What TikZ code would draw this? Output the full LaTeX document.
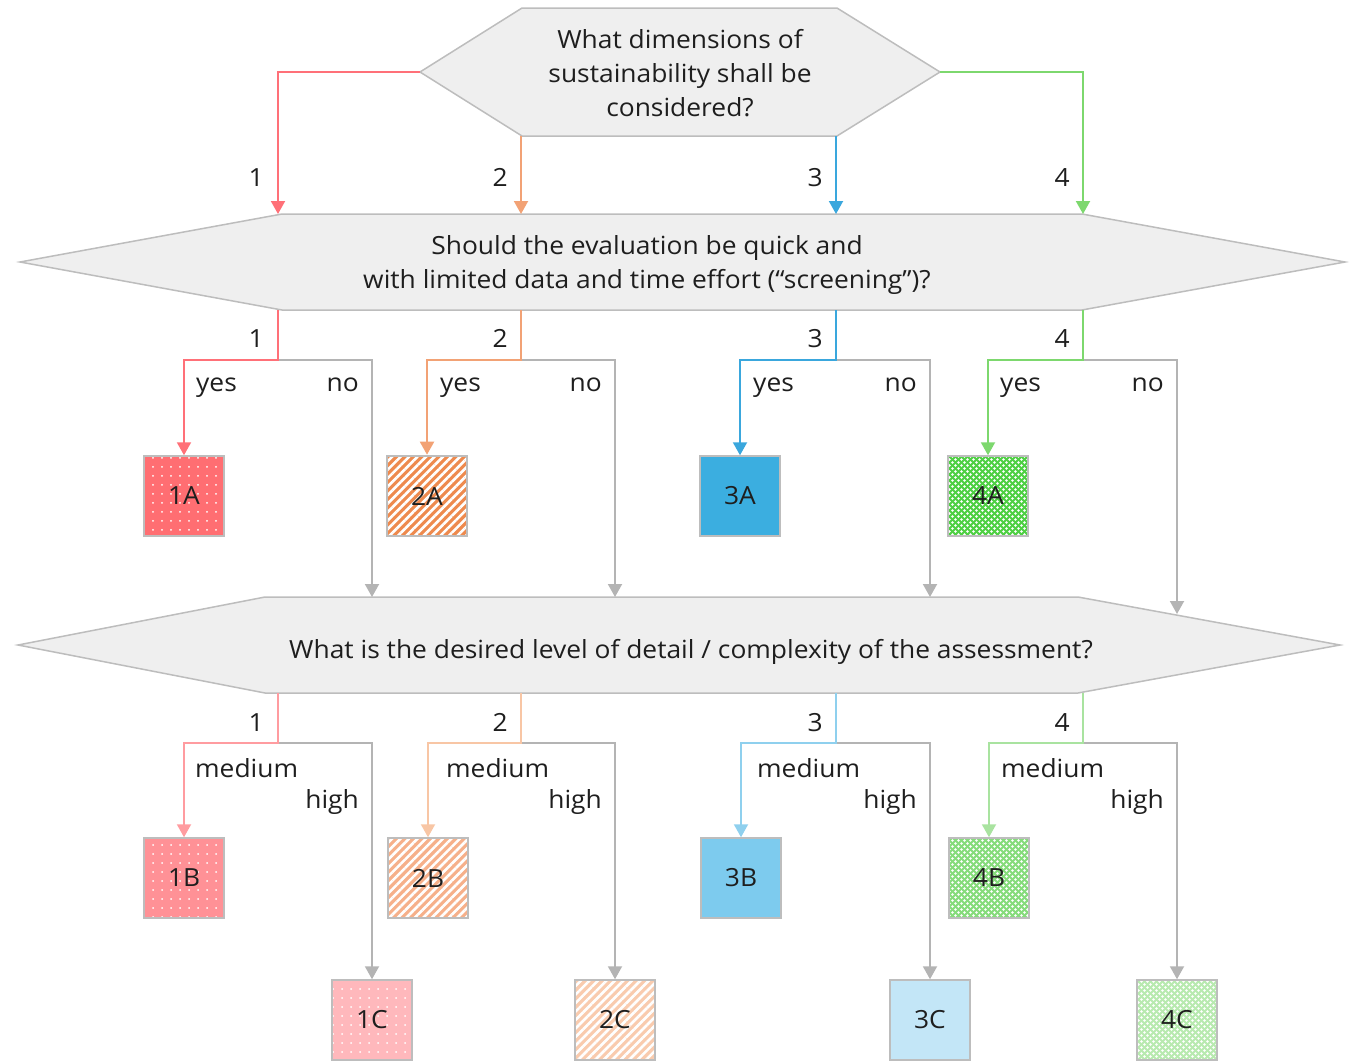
\documentclass[tikz,border=0pt]{standalone}
\usepackage{fontspec}
\setmainfont{Open Sans}[FakeStretch=1.055]
\usetikzlibrary{arrows.meta,patterns,patterns.meta}
\definecolor{hexfill}{HTML}{EFEFEF}
\definecolor{hexline}{HTML}{BDBDBD}
\definecolor{connc}{HTML}{B4B4B4}
\definecolor{txtc}{HTML}{1E1E1E}
\definecolor{rA}{HTML}{FF6E72}
\definecolor{rB}{HTML}{FF9196}
\definecolor{rC}{HTML}{FFB8BC}
\definecolor{oA}{HTML}{EE8A4E}
\definecolor{oB}{HTML}{F6B08A}
\definecolor{oC}{HTML}{F9CBAE}
\definecolor{bA}{HTML}{3BAEE0}
\definecolor{bB}{HTML}{7DCBEE}
\definecolor{bC}{HTML}{C3E6F7}
\definecolor{gA}{HTML}{4FD044}
\definecolor{gB}{HTML}{86DC7C}
\definecolor{gC}{HTML}{B8EAB0}
\definecolor{arR}{HTML}{FF7078}
\definecolor{arO}{HTML}{F2A275}
\definecolor{arB}{HTML}{3AA7DD}
\definecolor{arG}{HTML}{7DD86E}
\definecolor{loR}{HTML}{FF9CA0}
\definecolor{loO}{HTML}{F8C6A5}
\definecolor{loB}{HTML}{8FD0EE}
\definecolor{loG}{HTML}{A9E3A0}
\pgfdeclarepatternformonly{mycheck}{\pgfqpoint{-1pt}{-1pt}}{\pgfqpoint{7pt}{7pt}}{\pgfqpoint{6pt}{6pt}}{%
  \pgfpathcircle{\pgfqpoint{1.5pt}{1.5pt}}{1.3pt}%
  \pgfpathcircle{\pgfqpoint{4.5pt}{4.5pt}}{1.3pt}%
  \pgfusepath{fill}}
\begin{document}
\begin{tikzpicture}[x=1pt,y=-1pt,
  txt/.style={text=txtc, font=\fontsize{25}{34}\selectfont, inner sep=0pt},
  hex/.style={draw=hexline, fill=hexfill, line width=1.5pt, line join=miter},
  conn/.style={line width=2pt, -{Triangle[width=14pt,length=13pt]}},
  box/.style={txt, draw=hexline, line width=1.5pt, minimum size=80pt},
  dotbox/.style={box, preaction={fill=#1}, pattern={Dots[distance=9pt,radius=1pt]}, pattern color=white},
  linebox/.style={box, preaction={fill=#1}, pattern={Lines[angle=45,distance=6pt,line width=2.6pt]}, pattern color=white},
  solidbox/.style={box, fill=#1},
  checkbox/.style={box, preaction={fill=#1}, pattern=mycheck, pattern color=white},
  lblL/.style={txt, anchor=base west},
  lblR/.style={txt, anchor=base east}
]
\useasboundingbox (0,0) rectangle (1363,1061);
% hexagons
\draw[hex] (420,72) -- (522,8) -- (837,8) -- (940,72) -- (837,136) -- (522,136) -- cycle;
\node[txt, align=center] (q1) at (680,73) {What dimensions of\\sustainability shall be\\considered?};
\draw[hex] (20,262) -- (282,214) -- (1082,214) -- (1345,262) -- (1082,310) -- (282,310) -- cycle;
\node[txt, align=center] (q2) at (647,265) {Should the evaluation be quick and\\with limited data and time effort (“screening”)?};
\draw[hex] (18,645) -- (265,597) -- (1078,597) -- (1340,645) -- (1078,693) -- (265,693) -- cycle;
\node[txt] (q3) at (691,652) {What is the desired level of detail / complexity of the assessment?};
% coordinates
\coordinate (h1W) at (420,72);
\coordinate (h1E) at (940,72);
\coordinate (h1S2) at (521,136);
\coordinate (h1S3) at (836,136);
\coordinate (t1) at (278,214);
\coordinate (t2) at (521,214);
\coordinate (t3) at (836,214);
\coordinate (t4) at (1083,214);
\foreach \i/\x in {1/278,2/521,3/836,4/1083}{
  \coordinate (s\i) at (\x,310);
  \coordinate (k\i) at (\x,360);
  \coordinate (u\i) at (\x,693);
  \coordinate (m\i) at (\x,743);
}
\coordinate (n1) at (372,597);
\coordinate (n2) at (615,597);
\coordinate (n3) at (930,597);
\coordinate (n4) at (1177,614);
% boxes
\node[dotbox=rA] (1A) at (184,496) {1A};
\node[linebox=oA] (2A) at (427,496) {2A};
\node[solidbox=bA] (3A) at (740,496) {3A};
\node[checkbox=gA] (4A) at (988,496) {4A};
\node[dotbox=rB] (1B) at (184,878) {1B};
\node[linebox=oB] (2B) at (428,878) {2B};
\node[solidbox=bB] (3B) at (741,878) {3B};
\node[checkbox=gB] (4B) at (989,878) {4B};
\node[dotbox=rC] (1C) at (372,1020) {1C};
\node[linebox=oC] (2C) at (615,1020) {2C};
\node[solidbox=bC] (3C) at (930,1020) {3C};
\node[checkbox=gC] (4C) at (1177,1020) {4C};
% top connectors
\draw[conn, draw=arR] (h1W) -| (t1);
\draw[conn, draw=arO] (h1S2) -- (t2);
\draw[conn, draw=arB] (h1S3) -- (t3);
\draw[conn, draw=arG] (h1E) -| (t4);
\node[lblR] at (264,186) {1};
\node[lblR] at (508,186) {2};
\node[lblR] at (823,186) {3};
\node[lblR] at (1070,186) {4};
% second level
\draw[conn, draw=connc] (k1) -| (n1);
\draw[conn, draw=connc] (k2) -| (n2);
\draw[conn, draw=connc] (k3) -| (n3);
\draw[conn, draw=connc] (k4) -| (n4);
\draw[conn, draw=arR] (s1) -- (k1) -| (1A.north);
\draw[conn, draw=arO] (s2) -- (k2) -| (2A.north);
\draw[conn, draw=arB] (s3) -- (k3) -| (3A.north);
\draw[conn, draw=arG] (s4) -- (k4) -| (4A.north);
\node[lblR] at (264,347) {1};
\node[lblR] at (508,347) {2};
\node[lblR] at (823,347) {3};
\node[lblR] at (1070,347) {4};
\node[lblL] at (196,391) {yes};
\node[lblL] at (440,391) {yes};
\node[lblL] at (753,391) {yes};
\node[lblL] at (1000,391) {yes};
\node[lblR] at (359,391) {no};
\node[lblR] at (602,391) {no};
\node[lblR] at (917,391) {no};
\node[lblR] at (1164,391) {no};
% third level
\draw[conn, draw=connc] (m1) -| (1C.north);
\draw[conn, draw=connc] (m2) -| (2C.north);
\draw[conn, draw=connc] (m3) -| (3C.north);
\draw[conn, draw=connc] (m4) -| (4C.north);
\draw[conn, draw=loR] (u1) -- (m1) -| (1B.north);
\draw[conn, draw=loO] (u2) -- (m2) -| (2B.north);
\draw[conn, draw=loB] (u3) -- (m3) -| (3B.north);
\draw[conn, draw=loG] (u4) -- (m4) -| (4B.north);
\node[lblR] at (264,731) {1};
\node[lblR] at (508,731) {2};
\node[lblR] at (823,731) {3};
\node[lblR] at (1070,731) {4};
\node[lblL] at (195,777) {medium};
\node[lblL] at (446,777) {medium};
\node[lblL] at (757,777) {medium};
\node[lblL] at (1001,777) {medium};
\node[lblR] at (359,808) {high};
\node[lblR] at (602,808) {high};
\node[lblR] at (917,808) {high};
\node[lblR] at (1164,808) {high};
\end{tikzpicture}
\end{document}
